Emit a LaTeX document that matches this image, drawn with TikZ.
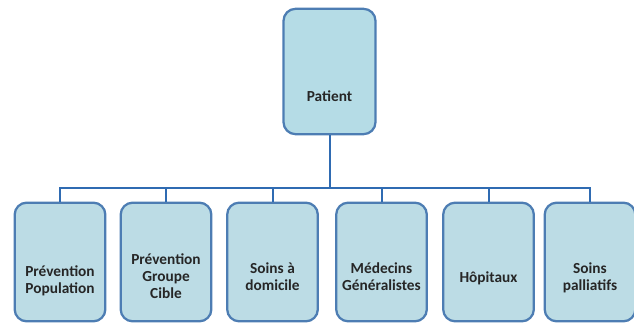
\documentclass[tikz,border=0pt]{standalone}
\usepackage{fontspec}
\setmainfont{Carlito}
\usepackage{tikz}
\usetikzlibrary{positioning, calc}

\definecolor{boxfill}{HTML}{BCDCE5}
\definecolor{topfill}{HTML}{B5DCE6}
\definecolor{boxline}{HTML}{4D7DB3}
\definecolor{barline}{HTML}{2F6BB2}

\begin{document}
\begin{tikzpicture}[x=0.75pt, y=-0.75pt,
        orgbox/.style={rectangle, rounded corners=9pt, draw=boxline, fill=boxfill, line width=1.7pt, minimum width=68pt, minimum height=89pt, inner sep=0pt},
        orgtext/.style={font=\bfseries\fontsize{11.5}{12.5}\selectfont, align=center, text=black!85},
        link/.style={draw=barline, line width=1.5pt}
    ]
        \useasboundingbox (0,0) rectangle (634,327);

        % Top box
        \node[orgbox, fill=topfill, minimum width=69pt, minimum height=94pt] (patient) at (329.5, 71.5) {};
        \node[orgtext] (tpatient) at ($(patient.center)+(0,25)$) {Patient};

        % Bottom row
        \node[orgbox] (b1) at (60, 262) {};
        \node[orgbox] (b2) at (166, 262) {};
        \node[orgbox] (b3) at (272.5, 262) {};
        \node[orgbox] (b4) at (381.5, 262) {};
        \node[orgbox] (b5) at (488.5, 262) {};
        \node[orgbox] (b6) at (590, 262) {};

        \node[orgtext] (t1) at ($(b1.center)+(0,19)$) {Prévention\\Population};
        \node[orgtext] (t2) at ($(b2.center)+(0,14)$) {Prévention\\Groupe\\Cible};
        \node[orgtext] (t3) at ($(b3.center)+(0,15)$) {Soins à\\domicile};
        \node[orgtext] (t4) at ($(b4.center)+(0,15)$) {Médecins\\Généralistes};
        \node[orgtext] (t5) at ($(b5.center)+(0,16)$) {Hôpitaux};
        \node[orgtext] (t6) at ($(b6.center)+(0,16)$) {Soins\\palliatifs};

        % Connectors
        \coordinate (bar) at (329.5, 188);
        \draw[link] (patient.south) -- (bar);
        \draw[link] (b1.north) |- (bar);
        \draw[link] (b6.north) |- (bar);
        \draw[link] (b2.north) -- (b2.north |- bar);
        \draw[link] (b3.north) -- (b3.north |- bar);
        \draw[link] (b4.north) -- (b4.north |- bar);
        \draw[link] (b5.north) -- (b5.north |- bar);

    \end{tikzpicture}
\end{document}
